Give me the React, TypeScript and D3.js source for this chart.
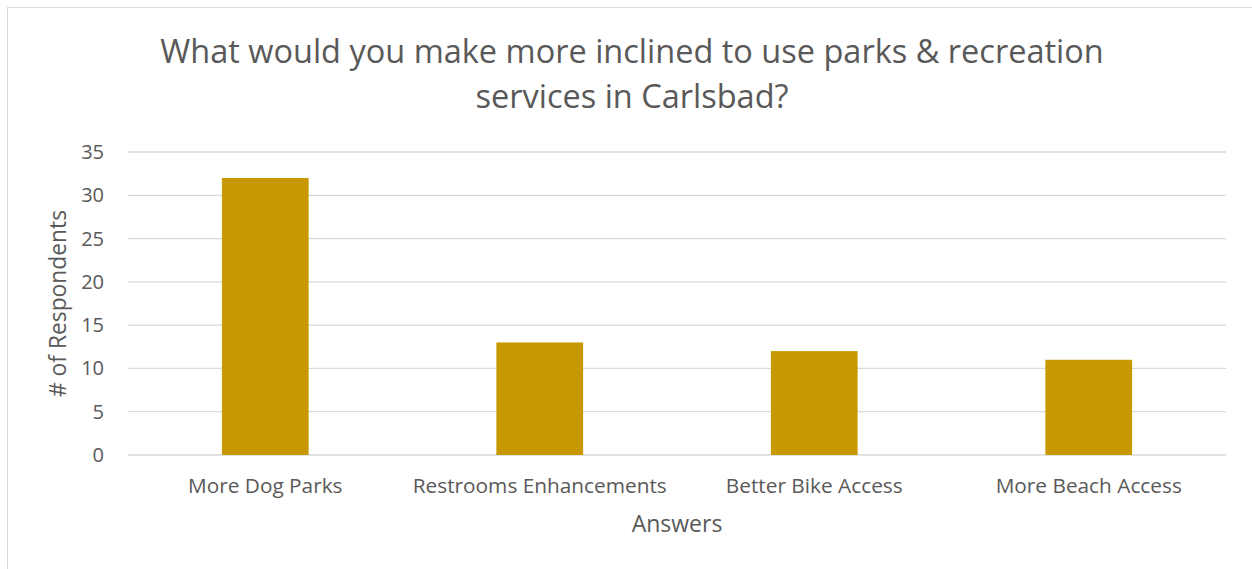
import { useEffect, useRef } from "react";
import * as d3 from "d3";

const categories = ["More Dog Parks", "Restrooms Enhancements", "Better Bike Access", "More Beach Access"];
const respondents = [32, 13, 12, 11];
const yTicks = [0, 5, 10, 15, 20, 25, 30, 35];
const titleLines = ["What would you make more inclined to use parks & recreation", "services in Carlsbad?"];

const W = 1252;
const H = 569;
const FONT = "'Open Sans', 'Noto Sans', sans-serif";

const App = () => {
  const ref = useRef<SVGSVGElement>(null);

  useEffect(() => {
    const svg = d3.select(ref.current);
    svg.selectAll("*").remove();

    const left = 128;
    const right = 1226;
    const top = 152;
    const bottom = 455;

    const x = d3.scaleBand<string>().domain(categories).range([left, right]);
    const y = d3.scaleLinear().domain([0, 35]).range([bottom, top]);
    const barW = x.bandwidth() * 0.316;

    // chart frame (only left/top edges fall inside the picture)
    svg
      .append("rect")
      .attr("x", 7.5)
      .attr("y", 7.5)
      .attr("width", W + 20)
      .attr("height", H + 20)
      .attr("fill", "#fff")
      .attr("stroke", "#d9d9d9");

    // grid
    svg
      .append("g")
      .selectAll("line")
      .data(yTicks)
      .enter()
      .append("line")
      .attr("x1", left)
      .attr("x2", right)
      .attr("y1", (d) => y(d))
      .attr("y2", (d) => y(d))
      .attr("stroke", "#d9d9d9")
      .attr("stroke-width", 1.3);

    // y tick labels
    svg
      .append("g")
      .selectAll("text")
      .data(yTicks)
      .enter()
      .append("text")
      .attr("x", 104)
      .attr("y", (d) => y(d))
      .attr("dy", "0.35em")
      .attr("text-anchor", "end")
      .attr("font-family", FONT)
      .attr("font-size", 20)
      .attr("fill", "#595959")
      .text((d) => d);

    // bars
    svg
      .append("g")
      .selectAll("rect")
      .data(respondents)
      .enter()
      .append("rect")
      .attr("x", (d, i) => x(categories[i])! + x.bandwidth() / 2 - barW / 2)
      .attr("y", (d) => y(d))
      .attr("width", barW)
      .attr("height", (d) => y(0) - y(d))
      .attr("fill", "#c89800");

    // category labels
    svg
      .append("g")
      .selectAll("text")
      .data(categories)
      .enter()
      .append("text")
      .attr("x", (d) => x(d)! + x.bandwidth() / 2)
      .attr("y", 493)
      .attr("text-anchor", "middle")
      .attr("font-family", FONT)
      .attr("font-size", 20.8)
      .attr("fill", "#595959")
      .text((d) => d);

    // axis titles
    svg
      .append("text")
      .attr("x", (left + right) / 2)
      .attr("y", 532)
      .attr("text-anchor", "middle")
      .attr("font-family", FONT)
      .attr("font-size", 23)
      .attr("fill", "#595959")
      .text("Answers");

    svg
      .append("text")
      .attr("transform", `translate(66,${(top + bottom) / 2}) rotate(-90)`)
      .attr("text-anchor", "middle")
      .attr("font-family", FONT)
      .attr("font-size", 22.8)
      .attr("fill", "#595959")
      .text("# of Respondents");

    // title
    svg
      .append("text")
      .attr("text-anchor", "middle")
      .attr("font-family", FONT)
      .attr("font-size", 32.5)
      .attr("fill", "#595959")
      .selectAll("tspan")
      .data(titleLines)
      .enter()
      .append("tspan")
      .attr("x", 632)
      .attr("y", (d, i) => 63 + i * 45)
      .text((d) => d);
  }, []);

  return (
    <svg
      ref={ref}
      width={W}
      height={H}
      style={{ position: "absolute", left: 0, top: 0, background: "#fff" }}
    />
  );
};

export default App;
